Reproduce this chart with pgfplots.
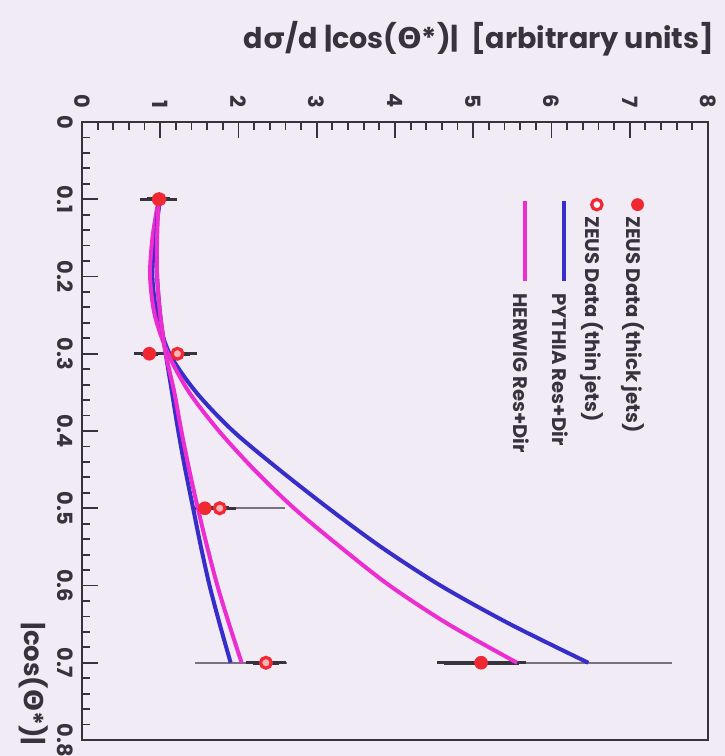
\documentclass[border=0pt]{standalone}
\usepackage{graphicx}
\usepackage{fontspec}
\setmainfont{Poppins}
\newfontfamily\grk{DejaVu Sans}
\usepackage{pgfplots}
\usepackage{pgfplotstable}
\pgfplotsset{compat=1.18}
\definecolor{bgc}{RGB}{241,235,246}
\definecolor{zblue}{RGB}{55,45,200}
\definecolor{zmag}{RGB}{235,45,210}
\definecolor{zred}{RGB}{240,40,50}
\definecolor{axc}{RGB}{55,50,60}
\definecolor{sysc}{RGB}{120,115,125}
\pagecolor{bgc}
\pgfplotsset{
  markleg/.style={legend image code/.code={\draw[##1] plot coordinates {(3pt,3pt)};}},
  lineleg/.style={legend image code/.code={\draw[##1] (0pt,3pt) -- (40pt,3pt);}},
  statbar/.style={forget plot, only marks, mark=none,
    error bars/.cd, y dir=both, y explicit,
    error bar style={draw=axc, line width=2.2pt},
    error mark options={draw=axc, mark size=3.5pt, line width=1.4pt}},
  sysbar/.style={forget plot, only marks, mark=none,
    error bars/.cd, y dir=both, y explicit,
    error bar style={draw=sysc, line width=1pt},
    error mark options={draw=sysc, mark size=3.5pt, line width=1pt}},
}

% ZEUS thick jets (filled), statistical errors
\pgfplotstableread{
c v em ep
0.1 0.98 0.15 0.15
0.3 0.86 0.11 0.11
0.5 1.57 0.07 0.07
0.7 5.10 0.47 0.49
}\thickstat
\pgfplotstableread{
c v em ep
0.7 5.10 0.47 2.35
}\thicksys
% ZEUS thin jets (open)
\pgfplotstableread{
c v em ep
0.1 0.99 0.12 0.12
0.3 1.22 0.16 0.16
0.5 1.76 0.12 0.12
0.7 2.35 0.17 0.17
}\thinstat
\pgfplotstableread{
c v em ep
0.5 1.76 0.15 0.75
0.7 2.35 0.82 0.18
}\thinsys
% model curves, thick jets
\pgfplotstableread{
c pyth herw
0.10 1.00 0.98
0.15 0.93 0.90
0.20 0.90 0.87
0.25 0.96 0.93
0.30 1.12 1.10
0.35 1.46 1.37
0.40 1.93 1.75
0.45 2.52 2.20
0.50 3.15 2.71
0.55 3.82 3.30
0.60 4.58 3.93
0.65 5.47 4.68
0.70 6.47 5.56
}\curvethick
% model curves, thin jets
\pgfplotstableread{
c pyth herw
0.10 0.98 0.98
0.15 0.95 0.96
0.20 0.96 0.96
0.25 1.00 1.00
0.30 1.07 1.07
0.35 1.15 1.18
0.40 1.23 1.27
0.45 1.32 1.37
0.50 1.42 1.48
0.55 1.52 1.60
0.60 1.63 1.73
0.65 1.76 1.88
0.70 1.90 2.04
}\curvethin

\begin{document}
\rotatebox{-90}{%
\begin{tikzpicture}
\begin{axis}[
  name=main,
  scale only axis, width=309pt, height=313pt,
  xmin=0, xmax=0.8, ymin=0, ymax=8,
  xtick={0,0.1,0.2,0.3,0.4,0.5,0.6,0.7,0.8},
  xticklabels={0,0.1,0.2,0.3,0.4,0.5,0.6,0.7,0.8},
  ytick={0,1,2,3,4,5,6,7,8},
  minor x tick num=4, minor y tick num=4,
  tick pos=left, tick align=inside,
  major tick length=8pt, minor tick length=4pt,
  axis line style={axc, line width=1.3pt},
  every tick/.append style={axc, line width=0.9pt},
  /pgf/number format/assume math mode=true,
  ticklabel style={font=\fontsize{10.5}{12}\selectfont\bfseries, text=axc},
  xticklabel style={yshift=-1pt},
  yticklabel style={xshift=-3.5pt},
  xlabel={|cos({\grk Θ}*)|},
  ylabel={d{\grk σ}/d |cos({\grk Θ}*)|\ \ [arbitrary units]},
  every axis x label/.style={at={(axis description cs:1.02,-0.078)}, anchor=east, font=\fontsize{13}{15}\selectfont\bfseries, text=axc},
  every axis y label/.style={at={(axis description cs:-0.135,1.021)}, rotate=90, anchor=east, font=\fontsize{14.3}{16}\selectfont\bfseries, text=axc},
]
% systematic error bars
\addplot[sysbar] table[x=c, y=v, y error plus=ep, y error minus=em]{\thicksys};
\addplot[sysbar] table[x=c, y=v, y error plus=ep, y error minus=em]{\thinsys};
% statistical error bars
\addplot[statbar] table[x=c, y=v, y error plus=ep, y error minus=em]{\thickstat};
\addplot[statbar] table[x=c, y=v, y error plus=ep, y error minus=em]{\thinstat};
% model curves
\addplot[forget plot, zblue, line width=2pt, smooth, no marks] table[x=c, y=pyth]{\curvethick};
\addplot[forget plot, zmag, line width=2pt, smooth, no marks] table[x=c, y=herw]{\curvethick};
\addplot[forget plot, zblue, line width=2pt, smooth, no marks] table[x=c, y=pyth]{\curvethin};
\addplot[forget plot, zmag, line width=2pt, smooth, no marks] table[x=c, y=herw]{\curvethin};
% data points (open first, so the filled point covers it where they coincide)
\addplot[forget plot, only marks, mark=*, mark size=2.7pt, mark options={fill=zred!35, draw=zred, line width=1.6pt}]
  table[x=c, y=v]{\thinstat};
\addplot[forget plot, only marks, mark=*, mark size=3.2pt, mark options={fill=zred, draw=zred}]
  table[x=c, y=v]{\thickstat};
\end{axis}

% legend for the data
\begin{axis}[
  scale only axis, width=309pt, height=313pt, hide axis,
  xmin=0, xmax=1, ymin=0, ymax=1,
  legend cell align=left,
  legend style={at={(axis cs:0.124,0.897)}, anchor=north west, draw=none, fill=none,
    inner sep=0pt, outer sep=0pt, row sep=10pt,
    font=\fontsize{9.8}{11}\selectfont\bfseries,
    nodes={inner xsep=3pt, inner ysep=0pt, text height=7.5pt, text depth=2pt, text=axc}},
]
\addlegendimage{only marks, mark=*, mark size=3pt, mark options={fill=zred, draw=zred}, markleg}
\addlegendentry{ZEUS Data (thick jets)}
\addlegendimage{only marks, mark=*, mark size=2.6pt, mark options={fill=white, draw=zred, line width=1.6pt}, markleg}
\addlegendentry{ZEUS Data (thin jets)}
\end{axis}

% legend for the models
\begin{axis}[
  scale only axis, width=309pt, height=313pt, hide axis,
  xmin=0, xmax=1, ymin=0, ymax=1,
  legend cell align=left,
  legend style={at={(axis cs:0.125,0.775)}, anchor=north west, draw=none, fill=none,
    inner sep=0pt, outer sep=0pt, row sep=10pt,
    font=\fontsize{9.8}{11}\selectfont\bfseries,
    nodes={inner xsep=5pt, inner ysep=0pt, text height=7.5pt, text depth=2pt, text=axc}},
  lineleg,
]
\addlegendimage{zblue, line width=2pt}
\addlegendentry{PYTHIA Res+Dir}
\addlegendimage{zmag, line width=2pt}
\addlegendentry{HERWIG Res+Dir}
\end{axis}

\pgfresetboundingbox
\path[use as bounding box] ([xshift=-61pt,yshift=-41pt]main.south west) rectangle ([xshift=8pt,yshift=8.5pt]main.north east);
\end{tikzpicture}%
}
\end{document}
